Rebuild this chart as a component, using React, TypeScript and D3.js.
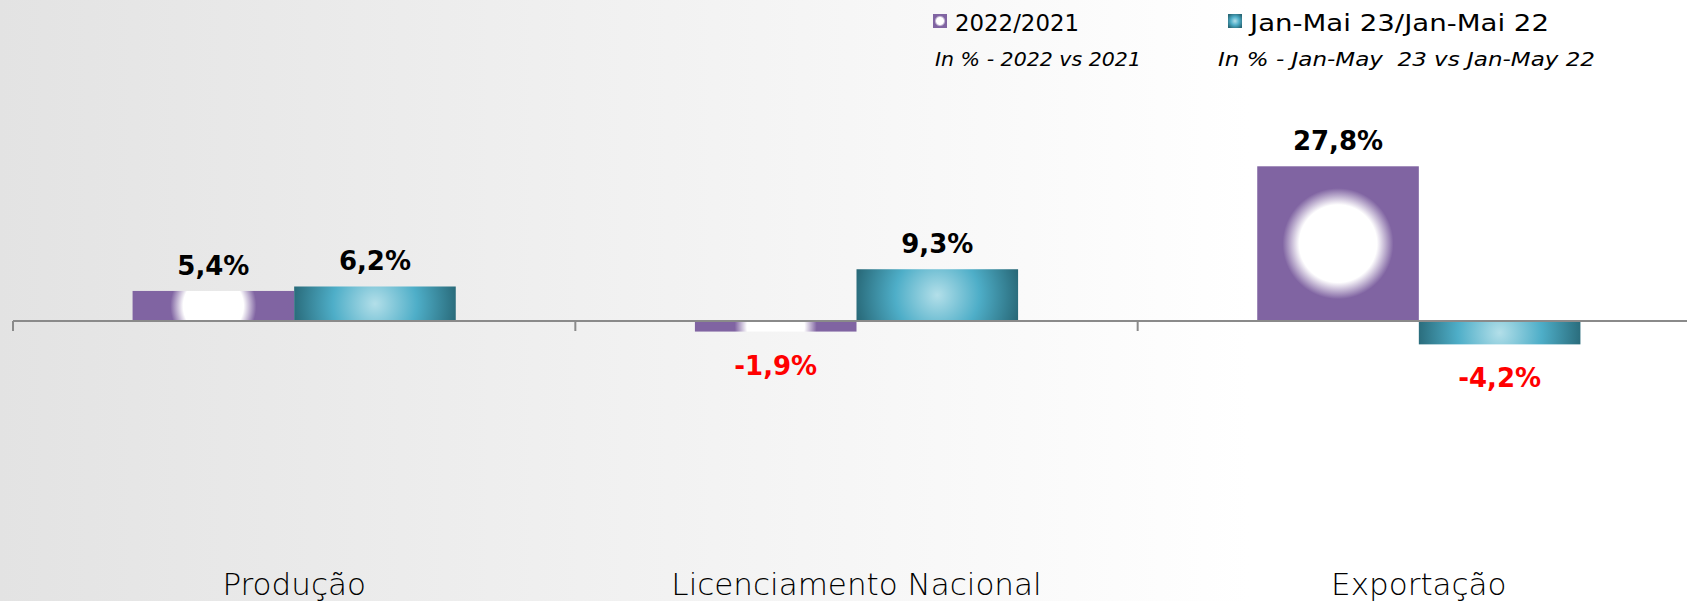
import React from "react";
import * as d3 from "d3";

const categories = ["Produção", "Licenciamento Nacional", "Exportação"];
const series2022 = [5.4, -1.9, 27.8];
const seriesJanMai = [6.2, 9.3, -4.2];
const seriesNames = ["2022/2021", "Jan-Mai 23/Jan-Mai 22"];
const seriesNotes = ["In % - 2022 vs 2021", "In % - Jan-May  23 vs Jan-May 22"];
const seriesKeys = ["s2022", "sJanMai"];

const W = 1687;
const H = 601;
const PURPLE = "#8064A2";
const FONT = "'DejaVu Sans', sans-serif";

const fmt = (v: number) => v.toFixed(1).replace(".", ",") + "%";

export default function App() {
  const x0 = d3.scaleBand<string>().domain(categories).range([13, 1700]).paddingInner(0).paddingOuter(0);
  const x1 = d3.scaleBand<string>().domain(seriesKeys).range([0, x0.bandwidth()]).paddingInner(0).paddingOuter(0.74);
  const y = d3.scaleLinear().domain([-40, 30]).range([543.6, 154.05]);
  const y0 = y(0);

  const rows = categories.map((c, i) => ({ cat: c, s2022: series2022[i], sJanMai: seriesJanMai[i] }));
  const ticks = [...categories.map((c) => x0(c)!), x0.range()[1]];

  return (
    <svg width={W} height={H} style={{ position: "absolute", left: 0, top: 0 }} fontFamily={FONT}>
      <defs>
        <linearGradient id="bg" x1="0" y1="0" x2="1250" y2="0" gradientUnits="userSpaceOnUse">
          <stop offset="0" stopColor="#e3e3e3" />
          <stop offset="1" stopColor="#ffffff" />
        </linearGradient>
        {rows.map((r, i) => {
          const bx = x0(r.cat)! + x1("s2022")! + x1.bandwidth() / 2;
          const v = r.s2022;
          const h = Math.abs(y(v) - y0);
          const by = (y(v) + y0) / 2;
          return (
            <radialGradient key={"pg" + i} id={"pg" + i} cx={bx} cy={by} r={40 + 0.1 * h} gradientUnits="userSpaceOnUse">
              <stop offset="0" stopColor="#ffffff" />
              <stop offset="0.7" stopColor="#ffffff" />
              <stop offset="1" stopColor={PURPLE} />
            </radialGradient>
          );
        })}
        {rows.map((r, i) => {
          const bx = x0(r.cat)! + x1("sJanMai")! + x1.bandwidth() / 2;
          const v = r.sJanMai;
          const by = (y(v) + y0) / 2;
          return (
            <radialGradient key={"tg" + i} id={"tg" + i} cx={bx} cy={by} r={84} gradientUnits="userSpaceOnUse">
              <stop offset="0" stopColor="#b3dfe9" />
              <stop offset="0.5" stopColor="#4eaec8" />
              <stop offset="1" stopColor="#286877" />
            </radialGradient>
          );
        })}
        <radialGradient id="legP" cx="0.5" cy="0.5" r="0.5">
          <stop offset="0" stopColor="#ffffff" />
          <stop offset="0.5" stopColor="#ffffff" />
          <stop offset="0.8" stopColor={PURPLE} />
          <stop offset="1" stopColor={PURPLE} />
        </radialGradient>
        <radialGradient id="legT" cx="0.5" cy="0.5" r="0.6">
          <stop offset="0" stopColor="#b3dfe9" />
          <stop offset="0.5" stopColor="#4eaec8" />
          <stop offset="1" stopColor="#286877" />
        </radialGradient>
      </defs>

      <rect x={0} y={0} width={W} height={H} fill="url(#bg)" />

      {/* bars */}
      {rows.map((r, i) => (
        <g key={r.cat}>
          {seriesKeys.map((k) => {
            const v = (r as any)[k] as number;
            const bx = x0(r.cat)! + x1(k)!;
            const top = Math.min(y(v), y0);
            const h = Math.abs(y(v) - y0);
            return (
              <rect
                key={k}
                x={bx}
                y={top}
                width={x1.bandwidth()}
                height={h}
                fill={k === "s2022" ? `url(#pg${i})` : `url(#tg${i})`}
              />
            );
          })}
        </g>
      ))}

      {/* axis */}
      <line x1={13} x2={W} y1={y0} y2={y0} stroke="#8a8a8a" strokeWidth={2} />
      {ticks.map((t, i) => (
        <line key={i} x1={t} x2={t} y1={y0} y2={y0 + 10} stroke="#8a8a8a" strokeWidth={2} />
      ))}

      {/* data labels */}
      {rows.map((r) =>
        seriesKeys.map((k) => {
          const v = (r as any)[k] as number;
          const cx = x0(r.cat)! + x1(k)! + x1.bandwidth() / 2;
          const ly = v >= 0 ? y(v) - 16 : y(v) + 43;
          return (
            <text
              key={r.cat + k}
              x={cx}
              y={ly}
              textAnchor="middle"
              fontSize={26}
              fontWeight="bold"
              fill={v >= 0 ? "#000000" : "#ff0000"}
            >
              {fmt(v)}
            </text>
          );
        })
      )}

      {/* category labels */}
      {categories.map((c) => (
        <text
          key={c}
          x={x0(c)! + x0.bandwidth() / 2}
          y={595}
          textAnchor="middle"
          fontSize={31}
          fontWeight={200}
          fill="#000000"
        >
          {c}
        </text>
      ))}

      {/* legend */}
      <rect x={933} y={14} width={14} height={14} fill="url(#legP)" />
      <text x={955} y={31} fontSize={23} fill="#000" textLength={124} lengthAdjust="spacingAndGlyphs">
        {seriesNames[0]}
      </text>
      <text x={935} y={66} fontSize={20} fontStyle="italic" fill="#000" textLength={206} lengthAdjust="spacingAndGlyphs" style={{ whiteSpace: "pre" }}>
        {seriesNotes[0]}
      </text>
      <rect x={1228} y={14} width={14} height={14} fill="url(#legT)" />
      <text x={1250} y={31} fontSize={23} fill="#000" textLength={299} lengthAdjust="spacingAndGlyphs">
        {seriesNames[1]}
      </text>
      <text x={1218} y={66} fontSize={20} fontStyle="italic" fill="#000" textLength={377} lengthAdjust="spacingAndGlyphs" style={{ whiteSpace: "pre" }}>
        {seriesNotes[1]}
      </text>
    </svg>
  );
}
